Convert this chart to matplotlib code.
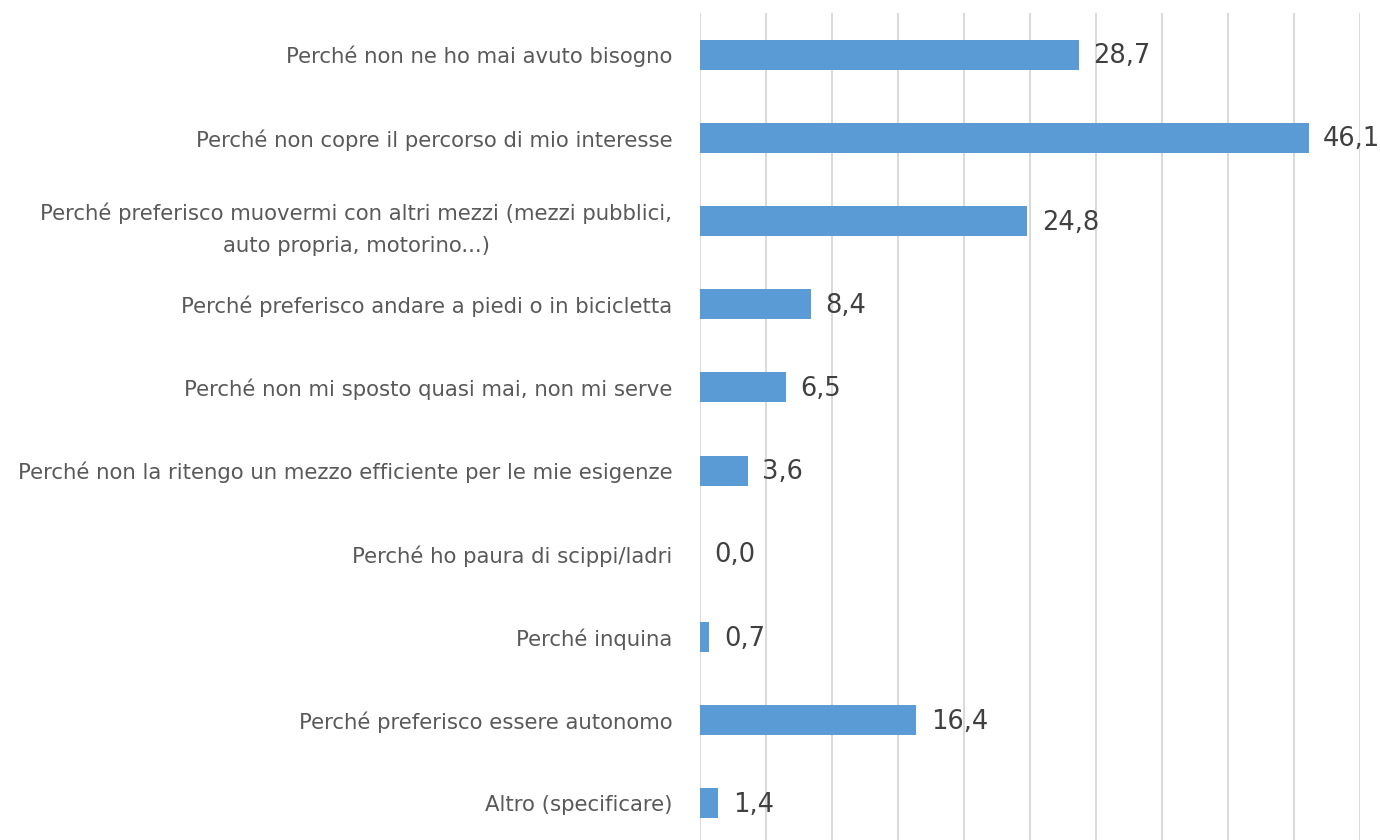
import matplotlib

matplotlib.use("Agg")
import matplotlib.pyplot as plt

categories = [
    "Perché non ne ho mai avuto bisogno",
    "Perché non copre il percorso di mio interesse",
    "Perché preferisco muovermi con altri mezzi (mezzi pubblici,\nauto propria, motorino...)",
    "Perché preferisco andare a piedi o in bicicletta",
    "Perché non mi sposto quasi mai, non mi serve",
    "Perché non la ritengo un mezzo efficiente per le mie esigenze",
    "Perché ho paura di scippi/ladri",
    "Perché inquina",
    "Perché preferisco essere autonomo",
    "Altro (specificare)",
]
values = [28.7, 46.1, 24.8, 8.4, 6.5, 3.6, 0.0, 0.7, 16.4, 1.4]

plt.rcParams["font.family"] = ["DejaVu Sans"]

fig = plt.figure(figsize=(13.8, 8.4), dpi=100)
ax = fig.add_axes([700 / 1380, 1 - 845 / 840, 660 / 1380, 832 / 840])

ypos = list(range(len(categories)))
ax.barh(ypos, values, height=0.36, color="#5B9BD5", zorder=3)
for y, v in zip(ypos, values):
    ax.text(v + 1.1, y + 0.02, f"{v:.1f}".replace(".", ","), va="center", ha="left",
            fontsize=18.5, color="#404040", zorder=4)

ax.set_xlim(0, 50)
ax.set_ylim(len(categories) - 0.5, -0.5)
ax.set_xticks(range(0, 51, 5))
ax.set_xticklabels([])
ax.tick_params(axis="x", length=0)
ax.set_yticks(ypos)
ax.set_yticklabels(categories, fontsize=15.3, color="#595959",
                   multialignment="center", linespacing=1.75)
ax.tick_params(axis="y", length=0, pad=20)
ax.grid(axis="x", color="#D9D9D9", linewidth=1.4, zorder=0)
for s in ax.spines.values():
    s.set_visible(False)

fig.savefig("out.png", dpi=100)
